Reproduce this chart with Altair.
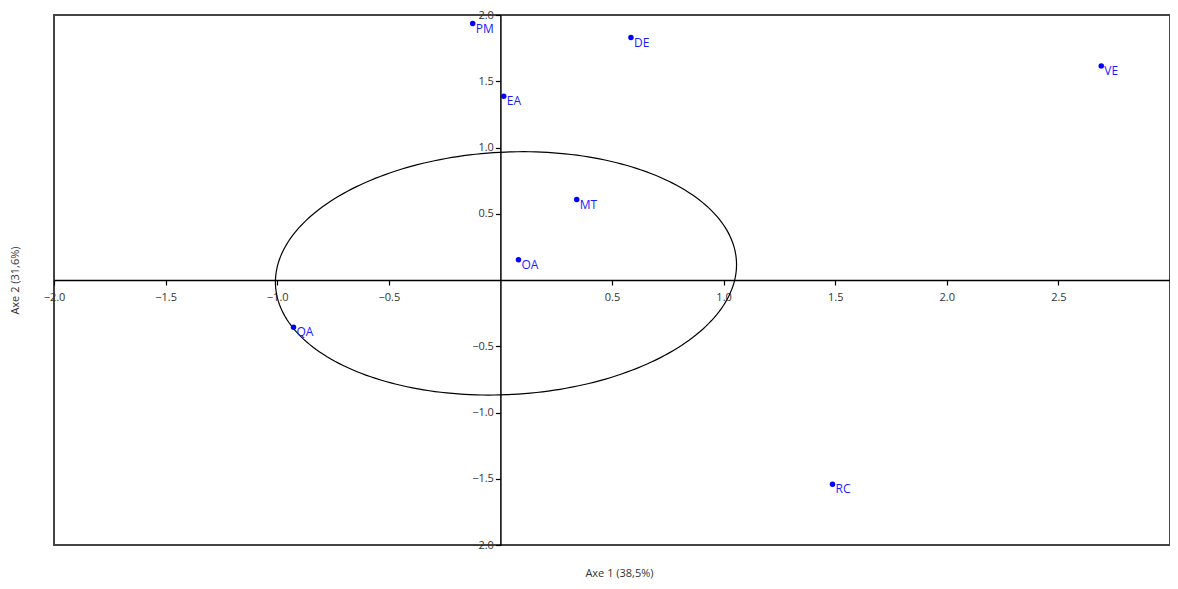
import altair as alt
import pandas as pd
import numpy as np

# ---- data ----
labels = ["PM", "DE", "VE", "EA", "MT", "OA", "QA", "RC"]
axe1 = [-0.124, 0.585, 2.692, 0.015, 0.342, 0.081, -0.927, 1.488]
axe2 = [1.935, 1.830, 1.616, 1.387, 0.607, 0.153, -0.357, -1.541]

x_ticks = [-2.0, -1.5, -1.0, -0.5, 0.5, 1.0, 1.5, 2.0, 2.5]
y_ticks = [-2.0, -1.5, -1.0, -0.5, 0.5, 1.0, 1.5, 2.0]

ellipse_center = (0.025, 0.05)
ellipse_radii = (1.034, 0.915)
ellipse_tilt_deg = 3.0

x_title = "Axe 1 (38,5%)"
y_title = "Axe 2 (31,6%)"

# ---- layout ----
W, H = 1116, 530
PAD_L, PAD_T, PAD_B = 46, 7, 36
xdom = [-2, 3]
ydom = [-2, 2]
kx = W / (xdom[1] - xdom[0])
ky = H / (ydom[1] - ydom[0])
x0_px = (0 - xdom[0]) * kx
y0_px = (ydom[1] - 0) * ky

points = pd.DataFrame({"x": axe1, "y": axe2, "label": labels})

# confidence ellipse (tilt applied in screen space)
t = np.linspace(0, 2 * np.pi, 241)
th = np.deg2rad(ellipse_tilt_deg)
ax_px = ellipse_radii[0] * kx
ay_px = ellipse_radii[1] * ky
X = ax_px * np.cos(t) * np.cos(th) - ay_px * np.sin(t) * np.sin(th)
Y = ax_px * np.cos(t) * np.sin(th) + ay_px * np.sin(t) * np.cos(th)
ell = pd.DataFrame({
    "x": ellipse_center[0] + X / kx,
    "y": ellipse_center[1] + Y / ky,
    "t": np.arange(len(t)),
})

FONT = "Open Sans"

x_axis = alt.Axis(
    values=x_ticks, format=".1f", offset=-(H - y0_px), grid=False,
    domainColor="black", domainWidth=1.5, tickColor="black", tickWidth=1.2,
    tickSize=5, labelColor="#333", labelFontSize=11, labelFont=FONT,
    labelPadding=6, labelFlush=False, labelOverlap=False,
    title=x_title, titleX=565, titleY=H - y0_px + 28, titleBaseline="middle",
    titleAlign="center", titleFont=FONT, titleFontSize=11,
    titleFontWeight="normal", titleColor="#333",
)
y_axis = alt.Axis(
    values=y_ticks, format=".1f", offset=-x0_px, grid=False,
    domainColor="black", domainWidth=1.5, tickColor="black", tickWidth=1.2,
    tickSize=5, labelColor="#333", labelFontSize=11, labelFont=FONT,
    labelPadding=2, labelFlush=False, labelOverlap=False,
    title=y_title, titleX=-(x0_px + 39), titleY=H / 2, titleAngle=-90,
    titleBaseline="middle", titleAlign="center", titleFont=FONT,
    titleFontSize=11, titleFontWeight="normal", titleColor="#333",
)

xenc = alt.X("x:Q", scale=alt.Scale(domain=xdom, nice=False, zero=False), axis=x_axis)
yenc = alt.Y("y:Q", scale=alt.Scale(domain=ydom, nice=False, zero=False), axis=y_axis)

ellipse = alt.Chart(ell).mark_line(color="black", strokeWidth=1.2).encode(
    x=xenc, y=yenc, order=alt.Order("t:Q")
)
dots = alt.Chart(points).mark_circle(size=30, color="#0000ff", opacity=1).encode(
    x=xenc, y=yenc
)
texts = alt.Chart(points).mark_text(
    align="left", baseline="middle", dx=3, dy=5, color="#1a1aff",
    fontSize=12, font=FONT
).encode(x=xenc, y=yenc, text="label:N")

chart = alt.layer(ellipse, dots, texts).properties(
    width=W, height=H,
    autosize=alt.AutoSizeParams(type="none"),
    padding={"left": PAD_L, "top": PAD_T, "right": 0, "bottom": PAD_B},
).configure_view(stroke="#444", strokeWidth=2)

chart.save("out.html", embed_options={"renderer": "svg", "actions": False})
